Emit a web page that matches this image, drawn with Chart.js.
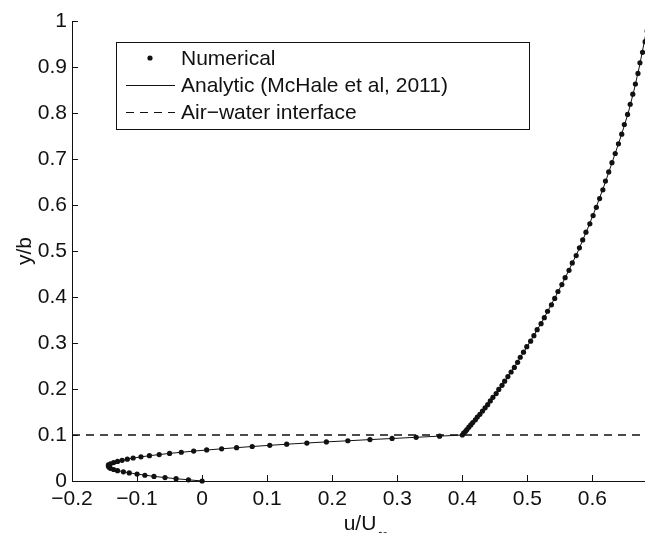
<!DOCTYPE html>
<html>
<head>
<meta charset="utf-8">
<script src="https://cdn.jsdelivr.net/npm/chart.js@4"></script>
<style>
  html, body { margin: 0; padding: 0; background: #fff; overflow: hidden; }
  #wrap { width: 645px; height: 533px; overflow: hidden; position: relative; }
  canvas { position: absolute; left: 0; top: 0; }
</style>
</head>
<body>
<div id="wrap"><canvas id="profileChart" width="700" height="570"></canvas></div>
<script>
// Velocity profile data

// numerical points: u/U and y/b
const numY = [
  0, 0.0025, 0.005, 0.0075, 0.01, 0.0125, 0.015, 0.0175, 0.02, 0.0225,
  0.025, 0.0275, 0.03, 0.0325, 0.035, 0.0375, 0.04, 0.0425, 0.045, 0.0475,
  0.05, 0.0525, 0.055, 0.0575, 0.06, 0.0625, 0.065, 0.0675, 0.07, 0.0725,
  0.075, 0.0775, 0.08, 0.0825, 0.085, 0.0875, 0.09, 0.0925, 0.095, 0.0975, 0.1,
  0.104, 0.108, 0.112, 0.117, 0.122, 0.127, 0.133, 0.139, 0.145, 0.152,
  0.159, 0.166, 0.174, 0.182, 0.190, 0.199, 0.208, 0.217, 0.227, 0.237,
  0.247, 0.258, 0.269, 0.280, 0.292, 0.304, 0.316, 0.329, 0.342, 0.355,
  0.369, 0.383, 0.397, 0.412, 0.427, 0.442, 0.458, 0.474, 0.490, 0.507,
  0.524, 0.541, 0.559, 0.577, 0.595, 0.614, 0.633, 0.652, 0.672, 0.692,
  0.712, 0.733, 0.754, 0.775, 0.797, 0.819, 0.841, 0.863, 0.886, 0.909,
  0.932, 0.955, 0.978
];
const numU = [
  0, -0.021, -0.040, -0.057, -0.074, -0.088, -0.100, -0.112, -0.121, -0.130,
  -0.136, -0.141, -0.143, -0.144, -0.144, -0.141, -0.136, -0.130, -0.123, -0.115,
  -0.106, -0.094, -0.081, -0.066, -0.050, -0.032, -0.013, 0.007, 0.030, 0.053,
  0.077, 0.104, 0.130, 0.161, 0.191, 0.224, 0.258, 0.292, 0.329, 0.365, 0.400,
  0.402, 0.405, 0.407, 0.410, 0.413, 0.416, 0.420, 0.423, 0.427, 0.431,
  0.435, 0.439, 0.443, 0.447, 0.452, 0.456, 0.461, 0.465, 0.470, 0.475,
  0.480, 0.485, 0.489, 0.494, 0.499, 0.505, 0.510, 0.515, 0.521, 0.526,
  0.531, 0.537, 0.542, 0.547, 0.553, 0.558, 0.564, 0.569, 0.575, 0.580,
  0.585, 0.590, 0.596, 0.601, 0.606, 0.611, 0.616, 0.620, 0.625, 0.630,
  0.635, 0.640, 0.645, 0.649, 0.654, 0.658, 0.662, 0.666, 0.670, 0.673,
  0.677, 0.681, 0.684
];

// analytic curve (McHale et al, 2011)
const anaY = [
  0, 0.005, 0.01, 0.015, 0.02, 0.025, 0.03, 0.0325, 0.035, 0.0375, 0.04,
  0.045, 0.05, 0.055, 0.06, 0.065, 0.07, 0.075, 0.08, 0.085, 0.09, 0.095,
  0.1, 0.15, 0.2, 0.25, 0.3, 0.35, 0.4, 0.45, 0.5, 0.55, 0.6, 0.65, 0.7,
  0.75, 0.8, 0.85, 0.9, 0.95, 1.0
];
const anaU = [
  0, -0.040, -0.074, -0.100, -0.121, -0.136, -0.143, -0.144, -0.144, -0.141, -0.136,
  -0.123, -0.106, -0.081, -0.050, -0.013, 0.030, 0.077, 0.130, 0.191, 0.258, 0.329,
  0.400, 0.430, 0.457, 0.481, 0.503, 0.524, 0.543, 0.561, 0.578, 0.593, 0.607, 0.620, 0.632,
  0.644, 0.655, 0.664, 0.672, 0.679, 0.686
];

// air-water interface
const ifaceU = [-0.2, 0.69];
const ifaceY = [0.1, 0.1];

// axes
const xRange = [-0.2, 0.69];
const yRange = [0, 1];
const xTicks = [-0.2, -0.1, 0, 0.1, 0.2, 0.3, 0.4, 0.5, 0.6];
const yTicks = [0, 0.1, 0.2, 0.3, 0.4, 0.5, 0.6, 0.7, 0.8, 0.9, 1];

const legendLabels = ['Numerical', 'Analytic (McHale et al, 2011)', 'Air\u2212water interface'];

const FONT = '"Liberation Sans", Arial, Helvetica, sans-serif';
const INK = '#111';

function toPoints(xs, ys) {
    return xs.map((x, i) => ({ x: x, y: ys[i] }));
}

function fmtTick(v) {
    const s = String(Number(Math.abs(v).toFixed(1)));
    return v < -1e-9 ? '\u2212' + s : s;
}

// inward tick marks, axis titles and the boxed legend
const matlabLook = {
    id: 'matlabLook',
    afterDraw(chart) {
        const ctx = chart.ctx;
        const xs = chart.scales.x, ys = chart.scales.y;
        const area = chart.chartArea;
        ctx.save();
        ctx.strokeStyle = INK;
        ctx.lineWidth = 1;
        ctx.beginPath();
        xTicks.forEach(v => {
            const px = Math.round(xs.getPixelForValue(v)) + 0.5;
            ctx.moveTo(px, area.bottom);
            ctx.lineTo(px, area.bottom - 6);
        });
        yTicks.forEach(v => {
            const py = Math.round(ys.getPixelForValue(v)) + 0.5;
            ctx.moveTo(area.left, py);
            ctx.lineTo(area.left + 6, py);
        });
        ctx.stroke();

        // x title with subscript
        ctx.fillStyle = INK;
        ctx.textBaseline = 'alphabetic';
        ctx.textAlign = 'left';
        ctx.font = '21px ' + FONT;
        const main = 'u/U';
        const w = ctx.measureText(main).width;
        const cx = 360;
        ctx.fillText(main, cx - w / 2, 530);
        ctx.font = '15px ' + FONT;
        ctx.fillText('\u221e', cx + w / 2 + 1, 539);

        // y title
        ctx.save();
        ctx.translate(31, (area.top + area.bottom) / 2);
        ctx.rotate(-Math.PI / 2);
        ctx.font = '21px ' + FONT;
        ctx.textAlign = 'center';
        ctx.fillText('y/b', 0, 0);
        ctx.restore();

        // legend
        const bx = 116.5, by = 42.5, bw = 413, bh = 87;
        ctx.fillStyle = '#fff';
        ctx.fillRect(bx, by, bw, bh);
        ctx.strokeRect(bx, by, bw, bh);
        const rows = [58, 85, 112];
        ctx.fillStyle = INK;
        ctx.beginPath();
        ctx.arc(150, rows[0], 2.6, 0, Math.PI * 2);
        ctx.fill();
        ctx.beginPath();
        ctx.moveTo(126, rows[1] + 0.5);
        ctx.lineTo(175, rows[1] + 0.5);
        ctx.stroke();
        ctx.setLineDash([8, 6]);
        ctx.beginPath();
        ctx.moveTo(126, rows[2] + 0.5);
        ctx.lineTo(175, rows[2] + 0.5);
        ctx.stroke();
        ctx.setLineDash([]);
        ctx.font = '21px ' + FONT;
        ctx.textAlign = 'left';
        ctx.textBaseline = 'middle';
        legendLabels.forEach((t, i) => ctx.fillText(t, 181, rows[i] + 1));
        ctx.restore();
    }
};

function initProfileChart() {
    const ctx = document.getElementById('profileChart');
    new Chart(ctx, {
        type: 'scatter',
        data: {
            datasets: [
                {
                    label: legendLabels[0],
                    data: toPoints(numU, numY),
                    showLine: false,
                    pointRadius: 2.6,
                    pointBorderWidth: 0,
                    pointBackgroundColor: INK,
                    clip: false
                },
                {
                    label: legendLabels[1],
                    data: toPoints(anaU, anaY),
                    showLine: true,
                    borderColor: INK,
                    borderWidth: 1,
                    pointRadius: 0,
                    tension: 0,
                    clip: false
                },
                {
                    label: legendLabels[2],
                    data: toPoints(ifaceU, ifaceY),
                    showLine: true,
                    borderColor: INK,
                    borderWidth: 1.4,
                    borderDash: [8, 6],
                    pointRadius: 0
                }
            ]
        },
        options: {
            responsive: false,
            animation: false,
            devicePixelRatio: 1,
            layout: {
                padding: { left: 0, top: 21, right: 49, bottom: 49 }
            },
            plugins: {
                legend: { display: false },
                tooltip: { enabled: false }
            },
            scales: {
                x: {
                    type: 'linear',
                    min: xRange[0],
                    max: xRange[1],
                    afterBuildTicks: s => { s.ticks = xTicks.map(v => ({ value: v })); },
                    afterFit: s => { s.height = 40; },
                    grid: { display: false, drawTicks: false },
                    border: { display: true, color: INK, width: 1 },
                    ticks: {
                        color: INK,
                        padding: 6,
                        maxRotation: 0,
                        autoSkip: false,
                        font: { family: FONT, size: 21 },
                        callback: v => fmtTick(v)
                    }
                },
                y: {
                    type: 'linear',
                    min: yRange[0],
                    max: yRange[1],
                    afterBuildTicks: s => { s.ticks = yTicks.map(v => ({ value: v })); },
                    afterFit: s => { s.width = 72; },
                    grid: { display: false, drawTicks: false },
                    border: { display: true, color: INK, width: 1 },
                    ticks: {
                        color: INK,
                        padding: 5,
                        autoSkip: false,
                        font: { family: FONT, size: 21 },
                        callback: v => fmtTick(v)
                    }
                }
            }
        },
        plugins: [matlabLook]
    });
}

document.addEventListener('DOMContentLoaded', function() {
    initProfileChart();
});
</script>
</body>
</html>
